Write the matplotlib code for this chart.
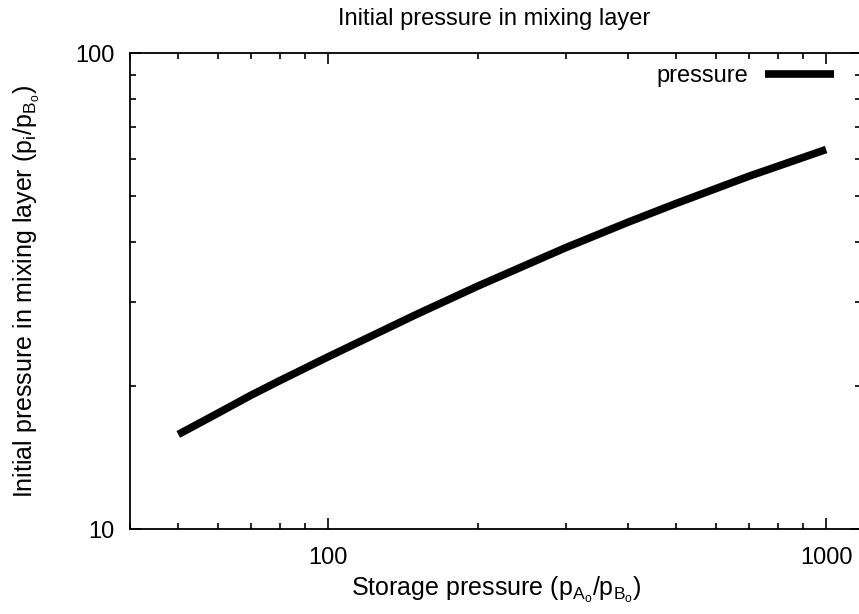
import matplotlib
matplotlib.use("Agg")
import matplotlib.pyplot as plt
from matplotlib.ticker import LogLocator, NullFormatter, FixedLocator, FixedFormatter

plt.rcParams["font.family"] = ["Liberation Sans", "DejaVu Sans"]
plt.rcParams["mathtext.fontset"] = "custom"
plt.rcParams["mathtext.rm"] = "Liberation Sans"
plt.rcParams["mathtext.it"] = "Liberation Sans"

# storage pressure ratio vs. initial pressure in the mixing layer
storage_pressure = [50, 60, 70, 80, 100, 150, 200, 300, 400, 500, 700, 1000]
mixing_pressure = [15.8, 17.5, 19.1, 20.5, 23.0, 28.2, 32.4, 39.0, 44.1, 48.3, 55.1, 62.7]

x_ticks = [100, 1000]
x_tick_labels = ["100", "1000"]
y_ticks = [10, 100]
y_tick_labels = ["10", "100"]

W, H = 859, 614
fig = plt.figure(figsize=(W / 100, H / 100), dpi=100)
left, right, top, bottom = 130, 861, 53, 529
ax = fig.add_axes([left / W, (H - bottom) / H, (right - left) / W, (bottom - top) / H])

ax.plot(storage_pressure, mixing_pressure, color="black", linewidth=5.5,
        solid_capstyle="butt", label="pressure")

ax.set_xscale("log")
ax.set_yscale("log")
ax.set_xlim(40, 1175)
ax.set_ylim(10, 100)

ax.xaxis.set_major_locator(FixedLocator(x_ticks))
ax.xaxis.set_major_formatter(FixedFormatter(x_tick_labels))
ax.yaxis.set_major_locator(FixedLocator(y_ticks))
ax.yaxis.set_major_formatter(FixedFormatter(y_tick_labels))
ax.xaxis.set_minor_locator(LogLocator(base=10, subs=range(2, 10)))
ax.yaxis.set_minor_locator(LogLocator(base=10, subs=range(2, 10)))
ax.xaxis.set_minor_formatter(NullFormatter())
ax.yaxis.set_minor_formatter(NullFormatter())

ax.tick_params(which="both", direction="in", top=True, right=True,
               width=1.2, labelsize=17, colors="black")
ax.tick_params(which="major", length=8)
ax.tick_params(which="minor", length=4)
ax.tick_params(axis="x", which="major", pad=13)
ax.tick_params(axis="y", which="major", pad=11)
for s in ax.spines.values():
    s.set_linewidth(1.3)
ax.spines["right"].set_visible(False)

fig.text(0.5 * (left + 858) / W, 1 - 19 / H, "Initial pressure in mixing layer",
         ha="center", va="center", fontsize=17)
fig.text(496 / W, 1 - 590 / H,
         r"Storage pressure ($\mathregular{p_{A_o}/p_{B_o}}$)",
         ha="center", va="center", fontsize=18)
fig.text(27 / W, 1 - 291 / H,
         r"Initial pressure in mixing layer ($\mathregular{p_i/p_{B_o}}$)",
         ha="center", va="center", rotation=90, fontsize=18)

ax.legend(loc="upper right", bbox_to_anchor=(0.963, 0.975), frameon=False,
          markerfirst=False, fontsize=17, borderpad=0, borderaxespad=0,
          handlelength=2.9, handletextpad=0.75)

fig.savefig("out.png", dpi=100)
